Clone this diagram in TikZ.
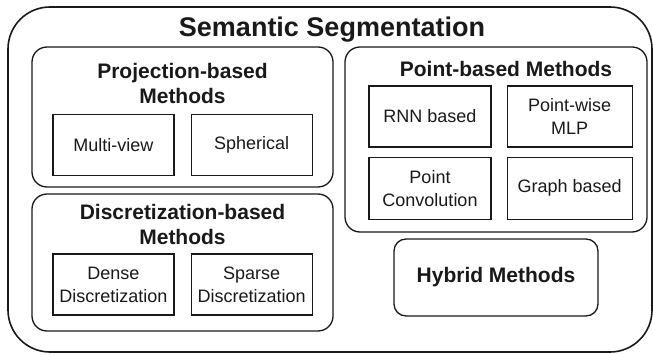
\documentclass[tikz,border=0pt]{standalone}
\usepackage{fontspec}
\setmainfont{Liberation Sans}
\usetikzlibrary{positioning}
\tikzset{
	group box/.style={draw=black!90,rounded corners=15pt,line width=1.3pt,inner sep=0pt},
	leaf box/.style={draw=black!90,line width=1.1pt,minimum width=121pt,minimum height=61pt,
		inner sep=0pt,align=center,text=black!90,font=\fontsize{18}{23}\selectfont},
	group title/.style={align=center,inner sep=0pt,text=black!90,font=\fontsize{21}{25}\selectfont\bfseries}
}

\begin{document}
\begin{tikzpicture}[x=1pt,y=-1pt]
	\useasboundingbox (0,0) rectangle (653,355);

	% outer frame
	\node[draw=black!90,rounded corners=42pt,line width=1.6pt,inner sep=0pt,
		minimum width=644pt,minimum height=345pt] (seg) at (330,179.5) {};
	\node[anchor=base,inner sep=0pt,text=black!90,font=\fontsize{27}{32}\selectfont\bfseries]
		(segtitle) at (332,37) {Semantic Segmentation};

	% projection
	\node[group box,minimum width=301pt,minimum height=140pt] (proj) at (182.5,117) {};
	\node[group title] (projtitle) at (182.5,83) {Projection-based\\Methods};
	\node[leaf box] (mview) at (113.5,145) {Multi-view};
	\node[leaf box] [right = 16pt of mview] (spher) {Spherical};

	% discretization
	\node[group box,minimum width=301pt,minimum height=137pt] (disc) at (182.5,262.5) {};
	\node[group title] (disctitle) at (182.5,224) {Discretization-based\\Methods};
	\node[leaf box] (dense) at (113.5,284.5) {Dense\\Discretization};
	\node[leaf box] [right = 16pt of dense] (sparse) {Sparse\\Discretization};

	% point
	\node[group box,minimum width=302pt,minimum height=185pt] (point) at (496,139.5) {};
	\node[group title,anchor=base] (pointtitle) at (506,77) {Point-based Methods};
	\node[leaf box,minimum width=122pt] (rnn) at (430,116.5) {RNN based};
	\node[leaf box,minimum width=125pt] [right = 15pt of rnn] (pmlp) {Point-wise\\MLP};
	\node[leaf box,minimum width=122pt,minimum height=62pt] [below = 9pt of rnn] (pconv) {Point\\Convolution};
	\node[leaf box,minimum width=125pt,minimum height=62pt] [below = 9pt of pmlp] (graph) {Graph based};

	% hybrid
	\node[group box,rounded corners=12pt,minimum width=204pt,minimum height=77pt,
		text=black!90,font=\fontsize{21}{25}\selectfont\bfseries] (hybrid) at (496,277.5) {Hybrid Methods};
\end{tikzpicture}
\end{document}
